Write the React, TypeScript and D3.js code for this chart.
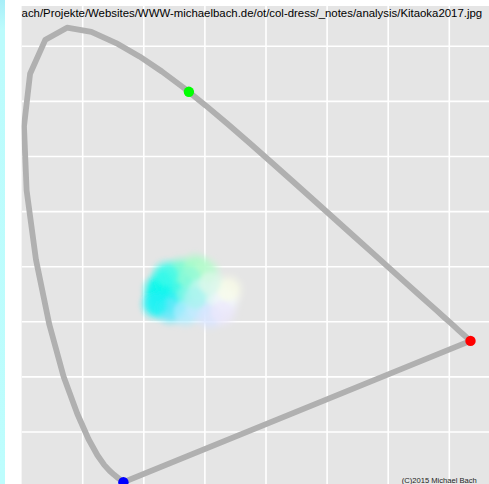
import React from "react";
import * as d3 from "d3";

const W = 489;
const H = 484;

// CIE 1931 2° spectral locus (x, y), 440–700 nm in 5 nm steps
const locusNm = [440,445,450,455,460,465,470,475,480,485,490,495,500,505,510,515,520,525,530,535,540,545,550,555,560,565,570,575,580,585,590,595,600,605,610,615,620,625,630,635,640,645,650,655,660,665,670,675,680,685,690,695,700];
const locusX = [0.1644,0.1611,0.1566,0.1510,0.1440,0.1355,0.1241,0.1096,0.0913,0.0687,0.0454,0.0235,0.0082,0.0039,0.0139,0.0389,0.0743,0.1142,0.1547,0.1929,0.2296,0.2658,0.3016,0.3373,0.3731,0.4087,0.4441,0.4788,0.5125,0.5448,0.5752,0.6029,0.6270,0.6482,0.6658,0.6801,0.6915,0.7006,0.7079,0.7140,0.7190,0.7230,0.7260,0.7283,0.7300,0.7311,0.7320,0.7327,0.7334,0.7340,0.7344,0.7346,0.7347];
const locusY = [0.0109,0.0138,0.0177,0.0227,0.0297,0.0399,0.0578,0.0868,0.1327,0.2007,0.2950,0.4127,0.5384,0.6548,0.7502,0.8120,0.8338,0.8262,0.8059,0.7816,0.7543,0.7243,0.6923,0.6589,0.6245,0.5896,0.5547,0.5202,0.4866,0.4544,0.4242,0.3965,0.3725,0.3514,0.3340,0.3197,0.3083,0.2993,0.2920,0.2859,0.2809,0.2770,0.2740,0.2717,0.2700,0.2689,0.2680,0.2673,0.2666,0.2660,0.2656,0.2654,0.2653];

// CIE RGB primaries: 700 nm, 546.1 nm, 435.8 nm
const primaryNames = ["R", "G", "B"];
const primaryX = [0.7347, 0.2738, 0.1666];
const primaryY = [0.2653, 0.7174, 0.0089];
const primaryColors = ["#ff0000", "#00ff00", "#0000ff"];

// chromaticities of image pixel clusters with their display colours
const pixX = [0.2232,0.2347,0.2462,0.2265,0.2510,0.2625,0.2723,0.2429,0.2592,0.2838,0.3001,0.2756,0.2674,0.2887,0.3083,0.3165,0.3329,0.3378,0.3280,0.2920,0.2838,0.2200,0.2380,0.3083];
const pixY = [0.3577,0.3722,0.3541,0.3359,0.3341,0.3668,0.3468,0.3214,0.3904,0.3976,0.3904,0.3795,0.3178,0.3250,0.3123,0.3486,0.3396,0.3577,0.3178,0.3577,0.3432,0.3320,0.3850,0.3700];
const pixColor = ["#00f8ec","#10faea","#20f6ee","#18f2f2","#36f0f4","#50f8e2","#88f6e6","#6ae8fa","#78fcd2","#a6fdc8","#b8fbcd","#90f9d8","#b0ecff","#c6eaff","#dae6ff","#e6f6f6","#f2f6fc","#fafce8","#ece8fc","#c2f8ee","#a8f4f0","#22f2f4","#40faea","#dcf8ea"];

const xTicks = [0.1, 0.2, 0.3, 0.4, 0.5, 0.6, 0.7];
const yTicks = [0.1, 0.2, 0.3, 0.4, 0.5, 0.6, 0.7, 0.8];

const title = "ach/Projekte/Websites/WWW-michaelbach.de/ot/col-dress/_notes/analysis/Kitaoka2017.jpg";
const credit = "(C)2015 Michael Bach";

export default function App() {
  const panel = { left: 21.6, top: 6, right: W, bottom: H };
  const x = d3.scaleLinear().domain([0, 0.8]).range([21.6, 21.6 + 8 * 61.1]);
  const y = d3.scaleLinear().domain([0, 0.9]).range([487.1, 487.1 - 9 * 55.1]);

  const pts: [number, number][] = [[primaryX[2], primaryY[2]]];
  locusX.forEach((v, i) => pts.push([v, locusY[i]]));
  pts.push([primaryX[2], primaryY[2]]);
  const line = d3
    .line<[number, number]>()
    .x((d) => x(d[0]))
    .y((d) => y(d[1]));

  return (
    <svg
      width={W}
      height={H}
      style={{ position: "fixed", left: 0, top: 0, background: "#ffffff" }}
      fontFamily="'Liberation Sans', Arial, sans-serif"
    >
      <defs>
        <linearGradient id="strip" x1="0" y1="0" x2="0" y2="1">
          <stop offset="0" stopColor="#a8eef8" />
          <stop offset="0.06" stopColor="#bcfbfc" />
          <stop offset="1" stopColor="#bdfdfd" />
        </linearGradient>
        <filter id="soft" x="-20%" y="-20%" width="140%" height="140%">
          <feGaussianBlur stdDeviation="2.2" />
        </filter>
        <clipPath id="panelClip">
          <rect x={panel.left} y={panel.top} width={panel.right - panel.left} height={panel.bottom - panel.top} />
        </clipPath>
      </defs>
      <rect x={0} y={0} width={5} height={H} fill="url(#strip)" />
      <rect
        x={panel.left}
        y={panel.top}
        width={panel.right - panel.left}
        height={panel.bottom - panel.top}
        fill="#e5e5e5"
      />
      <g clipPath="url(#panelClip)">
        {xTicks.map((t) => (
          <line key={"x" + t} x1={x(t)} x2={x(t)} y1={panel.top} y2={panel.bottom} stroke="#ffffff" strokeWidth={1.6} />
        ))}
        {yTicks.map((t) => (
          <line key={"y" + t} x1={panel.left} x2={panel.right} y1={y(t)} y2={y(t)} stroke="#ffffff" strokeWidth={1.6} />
        ))}
        <path
          d={line(pts) || ""}
          fill="none"
          stroke="#b0b0b0"
          strokeWidth={5.8}
          strokeLinejoin="round"
          strokeLinecap="round"
        />
        <g filter="url(#soft)">
          {pixX.map((v, i) => (
            <circle key={"h" + i} cx={x(v)} cy={y(pixY[i])} r={16} fill={pixColor[i]} opacity={0.3} />
          ))}
          {pixX.map((v, i) => (
            <circle key={"p" + i} cx={x(v)} cy={y(pixY[i])} r={11} fill={pixColor[i]} opacity={0.7} />
          ))}
        </g>
        {primaryX.map((v, i) => (
          <circle key={primaryNames[i]} cx={x(v)} cy={y(primaryY[i])} r={5.2} fill={primaryColors[i]} />
        ))}
        <text x={panel.left} y={16.6} fontSize={11.4} fill="#000000">
          {title}
        </text>
        <text x={401.7} y={482.5} fontSize={7.6} fill="#222222">
          {credit}
        </text>
      </g>
    </svg>
  );
}
